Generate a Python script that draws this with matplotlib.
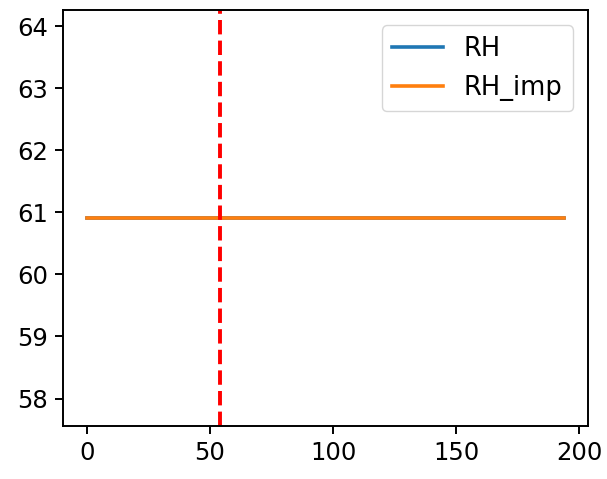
import matplotlib
matplotlib.use("Agg")
import matplotlib.pyplot as plt

# data
rh_x = [0, 194]
rh = [60.91, 60.91]
rh_imp_x = [0, 194]
rh_imp = [60.91, 60.91]
split_x = 54

plt.rcParams['font.size'] = 17.5
plt.rcParams['axes.linewidth'] = 1.4
plt.rcParams['xtick.major.width'] = 1.4
plt.rcParams['ytick.major.width'] = 1.4
plt.rcParams['xtick.major.size'] = 6
plt.rcParams['ytick.major.size'] = 6
plt.rcParams['xtick.major.pad'] = 5
plt.rcParams['ytick.major.pad'] = 5

fig = plt.figure(figsize=(6.07, 4.79), dpi=100)
ax = fig.add_axes([0.104, 0.111, 0.865, 0.868])

ax.plot(rh_x, rh, label="RH", linewidth=2.6)
ax.plot(rh_imp_x, rh_imp, label="RH_imp", linewidth=2.6)
ax.axvline(split_x, color="red", linestyle="--", linewidth=2.8)
ax.legend(loc="upper right", fontsize=18.5, borderaxespad=0.6)

fig.savefig("out.png", dpi=100)
